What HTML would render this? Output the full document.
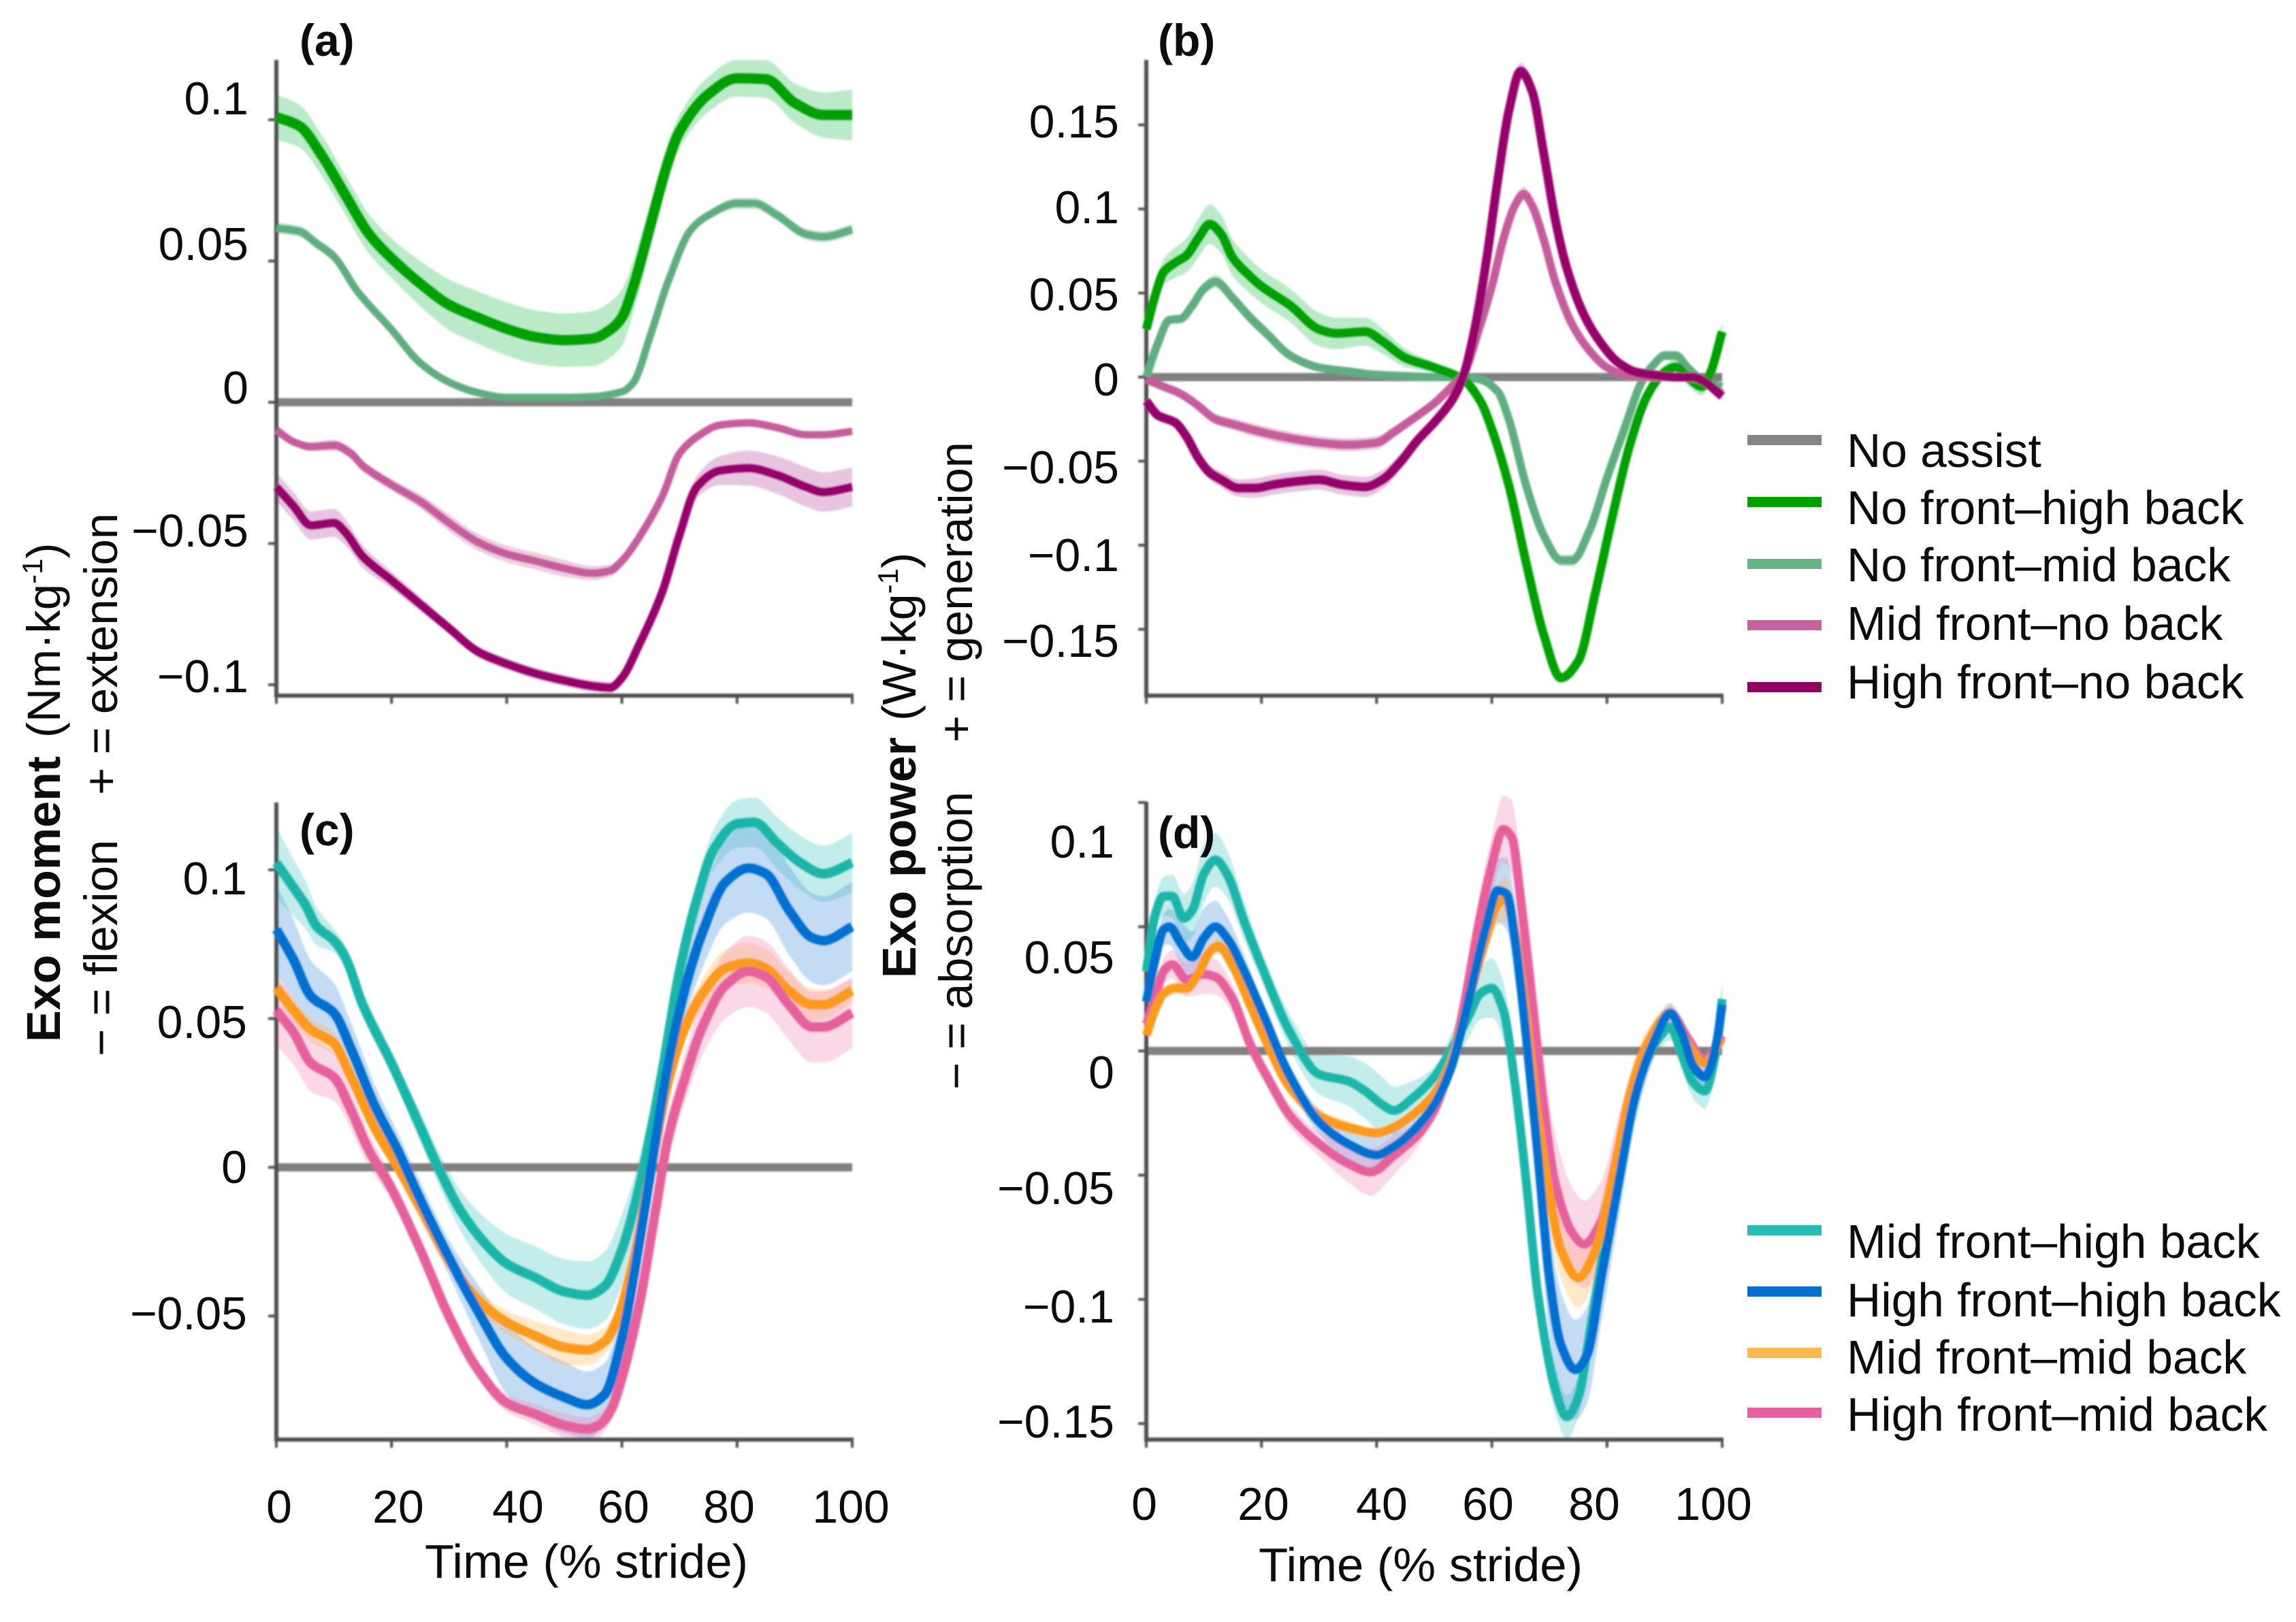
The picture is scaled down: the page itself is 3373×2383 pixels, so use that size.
<!DOCTYPE html>
<html lang="en">
<head>
<meta charset="utf-8">
<title>Exo moment and power</title>
<style>
html,body{margin:0;padding:0;background:#fff;width:3373px;height:2383px;overflow:hidden}
svg{display:block;position:absolute;left:0;top:0}
text{font-family:"Liberation Sans",Arial,sans-serif;fill:#0c0c0c;white-space:pre}
.tick{font-size:68px;text-anchor:end}
.xt{font-size:68px;text-anchor:middle}
.leg{font-size:69.5px}
.ttl{font-size:70px}
.pl{font-size:66px;font-weight:bold}
.ax{font-size:69px}
.bd{font-weight:bold}
</style>
</head>
<body>
<svg id="chart" xmlns="http://www.w3.org/2000/svg" width="3373" height="2383" viewBox="0 0 3373 2383">
  <defs><filter id="soft" x="-5%" y="-5%" width="110%" height="110%"><feGaussianBlur stdDeviation="1.4"/></filter></defs>
  <rect width="3373" height="2383" fill="#fff"/>
  <g id="marks" filter="url(#soft)"></g>

  <g>
    <text class="pl" x="440" y="82">(a)</text>
    <text class="pl" x="1701" y="82">(b)</text>
    <text class="pl" x="440" y="1242">(c)</text>
    <text class="pl" x="1701" y="1246">(d)</text>
  </g>

  <g>
    <text class="tick" x="365" y="168">0.1</text>
    <text class="tick" x="365" y="382">0.05</text>
    <text class="tick" x="365" y="593">0</text>
    <text class="tick" x="365" y="803">−0.05</text>
    <text class="tick" x="365" y="1017">−0.1</text>
  </g>
  <g>
    <text class="tick" x="1644" y="202">0.15</text>
    <text class="tick" x="1644" y="328">0.1</text>
    <text class="tick" x="1644" y="456">0.05</text>
    <text class="tick" x="1644" y="581">0</text>
    <text class="tick" x="1644" y="710">−0.05</text>
    <text class="tick" x="1644" y="839">−0.1</text>
    <text class="tick" x="1644" y="965">−0.15</text>
  </g>
  <g>
    <text class="tick" x="363" y="1314">0.1</text>
    <text class="tick" x="363" y="1525">0.05</text>
    <text class="tick" x="363" y="1738">0</text>
    <text class="tick" x="363" y="1953">−0.05</text>
  </g>
  <g>
    <text class="tick" x="1637" y="1260">0.1</text>
    <text class="tick" x="1637" y="1430">0.05</text>
    <text class="tick" x="1637" y="1599">0</text>
    <text class="tick" x="1637" y="1769">−0.05</text>
    <text class="tick" x="1637" y="1943">−0.1</text>
    <text class="tick" x="1637" y="2112">−0.15</text>
  </g>

  <g>
    <text class="xt" x="410" y="2237">0</text>
    <text class="xt" x="585" y="2237">20</text>
    <text class="xt" x="761" y="2237">40</text>
    <text class="xt" x="916" y="2237">60</text>
    <text class="xt" x="1071" y="2237">80</text>
    <text class="xt" x="1250" y="2237">100</text>
  </g>
  <g>
    <text class="xt" x="1681" y="2233">0</text>
    <text class="xt" x="1856" y="2233">20</text>
    <text class="xt" x="2030" y="2233">40</text>
    <text class="xt" x="2186" y="2233">60</text>
    <text class="xt" x="2342" y="2233">80</text>
    <text class="xt" x="2517" y="2233">100</text>
  </g>
  <text class="ttl" x="624" y="2318" textLength="475" lengthAdjust="spacingAndGlyphs">Time (% stride)</text>
  <text class="ttl" x="1849" y="2323" textLength="476" lengthAdjust="spacingAndGlyphs">Time (% stride)</text>

  <g>
    <text class="ax bd" transform="translate(88 1531) rotate(-90)" style="font-size:70px">Exo moment</text>
    <text class="ax" transform="translate(88 1084) rotate(-90)" style="font-size:69px">(Nm·kg<tspan dy="-26" style="font-size:42px">-1</tspan><tspan dy="26">)</tspan></text>
    <text class="ax" transform="translate(172 1552) rotate(-90)">− = flexion</text>
    <text class="ax" transform="translate(172 1168) rotate(-90)">+ = extension</text>
  </g>
  <g>
    <text class="ax bd" transform="translate(1345 1437) rotate(-90)" style="font-size:70px">Exo power</text>
    <text class="ax" transform="translate(1345 1059) rotate(-90)" style="font-size:70px">(W·kg<tspan dy="-26" style="font-size:42px">-1</tspan><tspan dy="26">)</tspan></text>
    <text class="ax" transform="translate(1428 1601) rotate(-90)" style="font-size:68.5px">− = absorption</text>
    <text class="ax" transform="translate(1428 1091) rotate(-90)" style="font-size:68.5px">+ = generation</text>
  </g>

  <g>
    <rect x="2567" y="639" width="109" height="15" fill="#858585"/>
    <rect x="2567" y="730" width="109" height="15" fill="#00a000"/>
    <rect x="2567" y="821" width="109" height="15" fill="#66b585"/>
    <rect x="2567" y="911" width="109" height="15" fill="#c9609f"/>
    <rect x="2567" y="1002" width="109" height="15" fill="#8f0063"/>
    <text class="leg" x="2713" y="686">No assist</text>
    <text class="leg" x="2713" y="770">No front–high back</text>
    <text class="leg" x="2713" y="854">No front–mid back</text>
    <text class="leg" x="2713" y="940">Mid front–no back</text>
    <text class="leg" x="2713" y="1026">High front–no back</text>
  </g>
  <g>
    <rect x="2567" y="1800" width="109" height="15" fill="#27bdb5"/>
    <rect x="2567" y="1890" width="109" height="15" fill="#0070d0"/>
    <rect x="2567" y="1980" width="109" height="15" fill="#ffb84d"/>
    <rect x="2567" y="2068" width="109" height="15" fill="#e8609f"/>
    <text class="leg" x="2713" y="1848">Mid front–high back</text>
    <text class="leg" x="2713" y="1934">High front–high back</text>
    <text class="leg" x="2713" y="2018">Mid front–mid back</text>
    <text class="leg" x="2713" y="2102">High front–mid back</text>
  </g>
</svg>
<script>
// ---- Common tick values and band stops
var bandStops = [0,10,20,30,40,50,60,70,80,90,100];
var xTickValues = [0,20,40,60,80,100];
var yTicksA = [0.1,0.05,0,-0.05,-0.1];
var yTicksB = [0.15,0.1,0.05,0,-0.05,-0.1,-0.15];
var yTicksC = [0.1,0.05,0,-0.05];
var yTicksD = [0.1,0.05,0,-0.05,-0.1,-0.15];

// ---- Panel (a) exo moment
var aHighBackX = [0,4,8,12,16,20,25,30,35,40,45,50,55,58,60,62,65,68,70,75,80,85,90,95,100];
var aHighBackY = [.101,.0978,.087,.0733,.0598,.051,.042,.0345,.03,.026,.0231,.022,.0226,.0257,.03,.041,.063,.085,.0958,.109,.1147,.1144,.106,.1017,.1017];
var aHighBackBand = [.008,.007,.007,.009,.0095,.0095,.01,.006,.0065,.007,.009];
var aMidBackX = [0,4,7,10,14,20,25,30,35,40,50,55,60,62,65,68,72,75,80,83,87,92,95,100];
var aMidBackY = [.0617,.0605,.0562,.0516,.0395,.0257,.0139,.0071,.0034,.0017,.0017,.002,.0037,.007,.024,.0426,.0611,.0662,.0704,.0704,.0662,.0595,.0586,.0611];
var aMidBackBand = [.002,.002,.001,.001,.001,.001,.001,.001,.002,.002,.002];
var aMidFrontX = [0,3,6,10,13,15,20,25,30,35,40,45,50,55,58,60,63,67,70,73,77,82,87,92,95,100];
var aMidFrontY = [-.0098,-.014,-.0157,-.0152,-.0182,-.0225,-.0292,-.0351,-.0427,-.0495,-.0537,-.0562,-.0588,-.0605,-.0596,-.0562,-.0478,-.0334,-.0182,-.0123,-.0081,-.0073,-.009,-.0115,-.0115,-.0103];
var aMidFrontBand = [.001,.002,.002,.003,.003,.003,.002,.002,.001,.001,.001];
var aHighFrontX = [0,3,6,10,12,15,20,25,30,35,40,45,50,55,58,60,63,67,70,73,77,82,87,92,95,100];
var aHighFrontY = [-.03,-.0368,-.0436,-.0427,-.0461,-.0546,-.063,-.0715,-.08,-.0883,-.0926,-.096,-.0985,-.1005,-.101,-.0976,-.0858,-.0672,-.047,-.03,-.0242,-.0233,-.0258,-.03,-.0318,-.03];
var aHighFrontBand = [.005,.005,.003,.002,.002,.002,.002,.003,.006,.007,.007];

// ---- Panel (b) exo power
var bHighBackX = [0,1.5,3,5,7,9,11,13,15,18,20,25,30,33,38,41,45,50,55,58,60,63,66,69,72,75,78,81,84,87,90,92,94,96.5,98,100];
var bHighBackY = [.0284,.048,.0625,.068,.0724,.0824,.091,.085,.071,.06,.054,.0426,.0284,.026,.027,.0213,.0114,.0057,-.0014,-.0142,-.031,-.065,-.111,-.153,-.179,-.169,-.128,-.082,-.04,-.011,.003,.006,0,-.0057,.003,.027];
var bHighBackBand = [.006,.012,.01,.01,.008,.003,.002,.002,.003,.004,.006];
var bMidBackX = [0,2,4,6,8,10,12,15,18,21,25,30,35,40,45,50,55,58,61,63,66,69,72,74,77,80,83,86,88,90,92,94,97,100];
var bMidBackY = [0,.02,.034,.0347,.0426,.0526,.0568,.047,.0355,.0256,.0128,.0057,.0034,.0014,.0006,0,0,-.0014,-.0085,-.0256,-.065,-.094,-.109,-.109,-.091,-.06,-.031,-.003,.007,.0128,.0128,.0057,-.003,-.0057];
var bMidBackBand = [.001,.004,.004,.002,.001,.001,.001,.003,.005,.003,.003];
var bMidFrontX = [0,3,6,9,12,15,20,25,30,35,40,43,46,50,53,55,58,60,62,64,65.5,67,69,71,74,77,80,83,86,90,95,100];
var bMidFrontY = [-.0014,-.0057,-.01,-.017,-.025,-.028,-.0327,-.0364,-.039,-.0403,-.039,-.0327,-.0256,-.0156,-.0057,.0014,.031,.054,.082,.102,.109,.102,.082,.057,.031,.0156,.0057,.0014,0,0,-.0006,-.01];
var bMidFrontBand = [.001,.003,.004,.004,.004,.002,.002,.006,.002,.001,.002];
var bHighFrontX = [0,2,5,7,9,11,13,16,19,22,25,30,34,38,41,44,47,50,53,55,57,59,61,63,65,67,69,71,73,76,79,82,85,88,92,95,97,100];
var bHighFrontY = [-.0142,-.0227,-.027,-.0355,-.048,-.0568,-.061,-.066,-.066,-.064,-.0625,-.061,-.064,-.0653,-.061,-.051,-.038,-.027,-.0142,0,.028,.068,.1165,.159,.182,.17,.1335,.094,.065,.037,.02,.0085,.003,.0014,0,0,-.003,-.0114];
var bHighFrontBand = [.002,.004,.006,.006,.006,.003,.004,.006,.002,.001,.002];

// ---- Panel (c) exo moment, combined
var cTealX = [0,3,5,7,10,12,15,20,25,28,32,36,40,45,50,54,57,60,62,64,67,70,73,76,80,83,87,91,95,100];
var cTealY = [.1024,.094,.0884,.081,.0762,.0706,.0547,.035,.0135,.0004,-.0146,-.025,-.0324,-.0371,-.0418,-.043,-.04,-.0277,-.0146,.0022,.0322,.0659,.09,.107,.1155,.116,.109,.1024,.0987,.1024];
var cTealBand = [.012,.004,.004,.006,.01,.011,.012,.005,.008,.009,.01];
var cBlueX = [0,3,6,10,13,17,21,25,30,35,40,45,50,54,57,60,62,65,68,71,74,78,82,85,89,93,95,100];
var cBlueY = [.08,.0697,.0575,.0519,.0397,.021,.006,-.0109,-.0305,-.0483,-.0642,-.0727,-.0773,-.0798,-.0764,-.0577,-.0371,-.0015,.0341,.0603,.079,.0959,.1006,.0987,.0865,.0772,.0762,.0809];
var cBlueBand = [.015,.01,.006,.006,.012,.012,.01,.01,.015,.015,.015];
var cOrangeX = [0,3,6,10,13,17,21,25,30,35,40,45,50,54,57,59,62,65,68,71,74,78,82,85,89,93,95,100];
var cOrangeY = [.0603,.0528,.0463,.0416,.0303,.0135,.0004,-.0137,-.0315,-.0446,-.0521,-.0567,-.0605,-.0614,-.0586,-.0521,-.0315,-.0015,.0285,.0472,.0584,.0669,.0687,.0669,.0594,.0547,.0547,.0594];
var cOrangeBand = [.004,.004,.003,.003,.004,.006,.004,.004,.007,.006,.004];
var cPinkX = [0,3,6,10,13,16,20,25,30,35,40,45,50,54,56,58,60,63,66,68,71,74,78,82,85,89,93,95,100];
var cPinkY = [.0528,.0453,.035,.0303,.0191,.006,-.0071,-.0277,-.0502,-.068,-.0792,-.083,-.0867,-.088,-.0867,-.082,-.0708,-.0464,-.0127,.0097,.0303,.0472,.0612,.0659,.064,.0547,.0472,.0472,.0519];
var cPinkBand = [.012,.008,.004,.003,.003,.004,.004,.008,.012,.012,.012];

// ---- Panel (d) exo power, combined
var dTealX = [0,1.5,3,4.5,6.5,8,10,12,14,17,20,25,30,35,38,41,43,46,50,53,56,58,60,62,64,66,68,71,73,75,77,80,83,86,89,91,93,95,97,99,100];
var dTealY = [.032,.0545,.0623,.0623,.0534,.0567,.0713,.0769,.0713,.0522,.0343,.0074,-.0094,-.0121,-.0161,-.0217,-.024,-.0195,-.0105,.0007,.0141,.0231,.0253,.0164,-.0128,-.0531,-.098,-.136,-.1473,-.1395,-.1137,-.0711,-.033,-.0083,.0052,.0096,-.0016,-.0128,-.0161,.0007,.0209];
var dTealBand = [.006,.012,.006,.008,.012,.004,.012,.01,.006,.005,.008];
var dBlueX = [0,1.5,3,4,6,8,10,12,14,17,20,25,30,35,40,43,46,50,53,56,59,61,62.5,64,66,68,70,72,74.5,76.5,79,82,85,88,91,93,95,97,99,100];
var dBlueY = [.0197,.0365,.0489,.05,.0433,.0377,.0455,.05,.0455,.0321,.0164,-.0105,-.0285,-.0374,-.0419,-.0386,-.033,-.0217,-.0061,.0209,.05,.0646,.0634,.0455,.0052,-.0419,-.0913,-.1182,-.1283,-.1226,-.0913,-.0531,-.0173,.0029,.0152,.0074,-.0061,-.0105,.0029,.0186];
var dBlueBand = [.004,.012,.004,.005,.008,.003,.012,.022,.018,.004,.005];
var dOrangeX = [0,1.5,3,5,7,9,11,12.5,15,18,21,25,30,35,40,43,46,50,53,56,59,61,62.5,64,66,68,70,72,75,78,81,84,87,91,94,97,100];
var dOrangeY = [.0063,.0164,.0231,.0253,.0253,.0309,.0399,.0422,.0343,.0186,.0029,-.015,-.0262,-.0307,-.033,-.0307,-.0262,-.0173,-.0038,.0209,.0455,.059,.0612,.0478,.0141,-.0262,-.0576,-.08,-.0913,-.08,-.0509,-.0173,.0029,.0152,.0029,-.0049,.0052];
var dOrangeBand = [.002,.003,.003,.003,.002,.002,.008,.012,.012,.003,.002];
var dPinkX = [0,1.5,3,4.5,7,10,12,15,18,21,25,30,35,39,43,47,50,53,55,58,60,62,63.5,65,67,69,71,74,76,79,82,85,88,91,94,97,100];
var dPinkY = [.0108,.0209,.0321,.0348,.0287,.0309,.0298,.0209,.0029,-.0105,-.0262,-.0374,-.0453,-.0487,-.0419,-.0341,-.024,-.0038,.0164,.0545,.0747,.0892,.0859,.0612,.0209,-.0217,-.0531,-.0733,-.0778,-.0688,-.0397,-.0128,.0052,.0152,.0052,-.0038,.0063];
var dPinkBand = [.004,.008,.004,.005,.01,.003,.012,.02,.016,.003,.002];

var NS = 'http://www.w3.org/2000/svg';
var marks = document.getElementById('marks');

function makeScaleX(x0, x100){ return function(t){ return x0 + (x100 - x0) * t / 100; }; }
function makeScaleY(zero, perUnit){ return function(v){ return zero - v * perUnit; }; }

function bandAt(band, x){
  for (var i = 0; i < bandStops.length - 1; i++) {
    if (x <= bandStops[i + 1]) {
      var f = (x - bandStops[i]) / (bandStops[i + 1] - bandStops[i]);
      return band[i] + (band[i + 1] - band[i]) * f;
    }
  }
  return band[band.length - 1];
}

// monotone cubic path through pixel points
function tangents(px, py){
  var n = px.length, d = [], m = [], i;
  for (i = 0; i < n - 1; i++) d.push((py[i + 1] - py[i]) / (px[i + 1] - px[i]));
  m[0] = d[0]; m[n - 1] = d[n - 2];
  for (i = 1; i < n - 1; i++) m[i] = d[i - 1] * d[i] <= 0 ? 0 : 2 * d[i - 1] * d[i] / (d[i - 1] + d[i]);
  return m;
}
function segs(px, py){
  var m = tangents(px, py), s = '';
  for (var i = 0; i < px.length - 1; i++) {
    var h = (px[i + 1] - px[i]) / 3;
    s += 'C' + (px[i] + h).toFixed(1) + ' ' + (py[i] + m[i] * h).toFixed(1) + ' ' +
         (px[i + 1] - h).toFixed(1) + ' ' + (py[i + 1] - m[i + 1] * h).toFixed(1) + ' ' +
         px[i + 1].toFixed(1) + ' ' + py[i + 1].toFixed(1);
  }
  return s;
}

function drawBand(p, xs, ys, band, color, name){
  var px = xs.map(p.sx);
  var up = ys.map(function(v, i){ return p.sy(v + bandAt(band, xs[i])); });
  var lo = ys.map(function(v, i){ return p.sy(v - bandAt(band, xs[i])); });
  var rx = px.slice().reverse(), rl = lo.slice().reverse();
  var m = tangents(rx, rl), back = '';
  for (var i = 0; i < rx.length - 1; i++) {
    var h = (rx[i + 1] - rx[i]) / 3;
    back += 'C' + (rx[i] + h).toFixed(1) + ' ' + (rl[i] + m[i] * h).toFixed(1) + ' ' +
            (rx[i + 1] - h).toFixed(1) + ' ' + (rl[i + 1] - m[i + 1] * h).toFixed(1) + ' ' +
            rx[i + 1].toFixed(1) + ' ' + rl[i + 1].toFixed(1);
  }
  var el = document.createElementNS(NS, 'path');
  el.setAttribute('d', 'M' + px[0].toFixed(1) + ' ' + up[0].toFixed(1) + segs(px, up) + 'L' + rx[0].toFixed(1) + ' ' + rl[0].toFixed(1) + back + 'Z');
  el.setAttribute('fill', color);
  el.setAttribute('fill-opacity', '0.3');
  
  
  marks.appendChild(el);
}

function drawLine(p, xs, ys, color, width, name){
  var px = xs.map(p.sx), py = ys.map(p.sy);
  var el = document.createElementNS(NS, 'path');
  el.setAttribute('d', 'M' + px[0].toFixed(1) + ' ' + py[0].toFixed(1) + segs(px, py));
  el.setAttribute('fill', 'none');
  el.setAttribute('stroke', color);
  el.setAttribute('stroke-width', width);
  el.setAttribute('stroke-linejoin', 'round');
  
  
  marks.appendChild(el);
}

function drawSeg(x1, y1, x2, y2, color, width, name){
  var el = document.createElementNS(NS, 'line');
  el.setAttribute('x1', x1);
  el.setAttribute('y1', y1);
  el.setAttribute('x2', x2);
  el.setAttribute('y2', y2);
  el.setAttribute('stroke', color);
  el.setAttribute('stroke-width', width);
  
  
  marks.appendChild(el);
}

function drawAxes(p, yTicks, tag){
  drawSeg(p.sx(0), p.top, p.sx(0), p.bottom + 3, '#505050', 6, tag + '-y-axis');
  drawSeg(p.sx(0) - 3, p.bottom, p.sx(100) + 2, p.bottom, '#505050', 6, tag + '-x-axis');
  xTickValues.forEach(function(t){
    drawSeg(p.sx(t), p.bottom, p.sx(t), p.bottom + 12, '#505050', 4, tag + '-x-tick-mark');
  });
  yTicks.forEach(function(v){
    drawSeg(p.sx(0) - 12, p.sy(v), p.sx(0), p.sy(v), '#505050', 4, tag + '-y-tick-mark');
  });
}

function drawZero(p, tag){
  drawSeg(p.sx(0), p.sy(0), p.sx(100), p.sy(0), '#808080', 12, tag + '-no-assist-line');
}

var pA = {sx: makeScaleX(406, 1252), sy: makeScaleY(591, 4150), top: 88, bottom: 1022};
var pB = {sx: makeScaleX(1684, 2530), sy: makeScaleY(554, 2470), top: 88, bottom: 1022};
var pC = {sx: makeScaleX(406, 1252), sy: makeScaleY(1715, 4370), top: 1179, bottom: 2115};
var pD = {sx: makeScaleX(1684, 2530), sy: makeScaleY(1544, 3650), top: 1178, bottom: 2115};

var DG = '#00a000', LG = '#5fae80', MP = '#c55d9c', HM = '#96006a';
var TE = '#1fb5aa', BL = '#0070d0', OR = '#fb9a1c', PK = '#e6609c';

// panel a
drawBand(pA, aHighBackX, aHighBackY, aHighBackBand, '#22b84a', 'a-no-front-high-back');
drawBand(pA, aMidBackX, aMidBackY, aMidBackBand, LG, 'a-no-front-mid-back');
drawBand(pA, aMidFrontX, aMidFrontY, aMidFrontBand, MP, 'a-mid-front-no-back');
drawBand(pA, aHighFrontX, aHighFrontY, aHighFrontBand, '#b0409a', 'a-high-front-no-back');
drawZero(pA, 'a');
drawAxes(pA, yTicksA, 'a');
drawLine(pA, aMidBackX, aMidBackY, LG, 11, 'a-no-front-mid-back');
drawLine(pA, aHighBackX, aHighBackY, DG, 15, 'a-no-front-high-back');
drawLine(pA, aMidFrontX, aMidFrontY, MP, 11, 'a-mid-front-no-back');
drawLine(pA, aHighFrontX, aHighFrontY, HM, 12, 'a-high-front-no-back');

// panel b
drawBand(pB, bHighBackX, bHighBackY, bHighBackBand, '#22b84a', 'b-no-front-high-back');
drawBand(pB, bMidBackX, bMidBackY, bMidBackBand, LG, 'b-no-front-mid-back');
drawBand(pB, bMidFrontX, bMidFrontY, bMidFrontBand, MP, 'b-mid-front-no-back');
drawBand(pB, bHighFrontX, bHighFrontY, bHighFrontBand, '#b0409a', 'b-high-front-no-back');
drawZero(pB, 'b');
drawAxes(pB, yTicksB, 'b');
drawLine(pB, bMidBackX, bMidBackY, LG, 12, 'b-no-front-mid-back');
drawLine(pB, bHighBackX, bHighBackY, DG, 13, 'b-no-front-high-back');
drawLine(pB, bMidFrontX, bMidFrontY, MP, 12, 'b-mid-front-no-back');
drawLine(pB, bHighFrontX, bHighFrontY, HM, 13, 'b-high-front-no-back');

// panel c
drawBand(pC, cTealX, cTealY, cTealBand, '#3cc4bb', 'c-mid-front-high-back');
drawBand(pC, cBlueX, cBlueY, cBlueBand, '#3a8ad8', 'c-high-front-high-back');
drawBand(pC, cOrangeX, cOrangeY, cOrangeBand, '#fdb44f', 'c-mid-front-mid-back');
drawBand(pC, cPinkX, cPinkY, cPinkBand, '#ee7fb0', 'c-high-front-mid-back');
drawZero(pC, 'c');
drawAxes(pC, yTicksC, 'c');
drawLine(pC, cTealX, cTealY, TE, 14, 'c-mid-front-high-back');
drawLine(pC, cOrangeX, cOrangeY, OR, 14, 'c-mid-front-mid-back');
drawLine(pC, cBlueX, cBlueY, BL, 14, 'c-high-front-high-back');
drawLine(pC, cPinkX, cPinkY, PK, 14, 'c-high-front-mid-back');

// panel d
drawBand(pD, dTealX, dTealY, dTealBand, '#3cc4bb', 'd-mid-front-high-back');
drawBand(pD, dBlueX, dBlueY, dBlueBand, '#3a8ad8', 'd-high-front-high-back');
drawBand(pD, dOrangeX, dOrangeY, dOrangeBand, '#fdb44f', 'd-mid-front-mid-back');
drawBand(pD, dPinkX, dPinkY, dPinkBand, '#ee7fb0', 'd-high-front-mid-back');
drawZero(pD, 'd');
drawAxes(pD, yTicksD, 'd');
drawLine(pD, dPinkX, dPinkY, PK, 13, 'd-high-front-mid-back');
drawLine(pD, dTealX, dTealY, TE, 13, 'd-mid-front-high-back');
drawLine(pD, dOrangeX, dOrangeY, OR, 13, 'd-mid-front-mid-back');
drawLine(pD, dBlueX, dBlueY, BL, 13, 'd-high-front-high-back');
</script>
</body>
</html>
